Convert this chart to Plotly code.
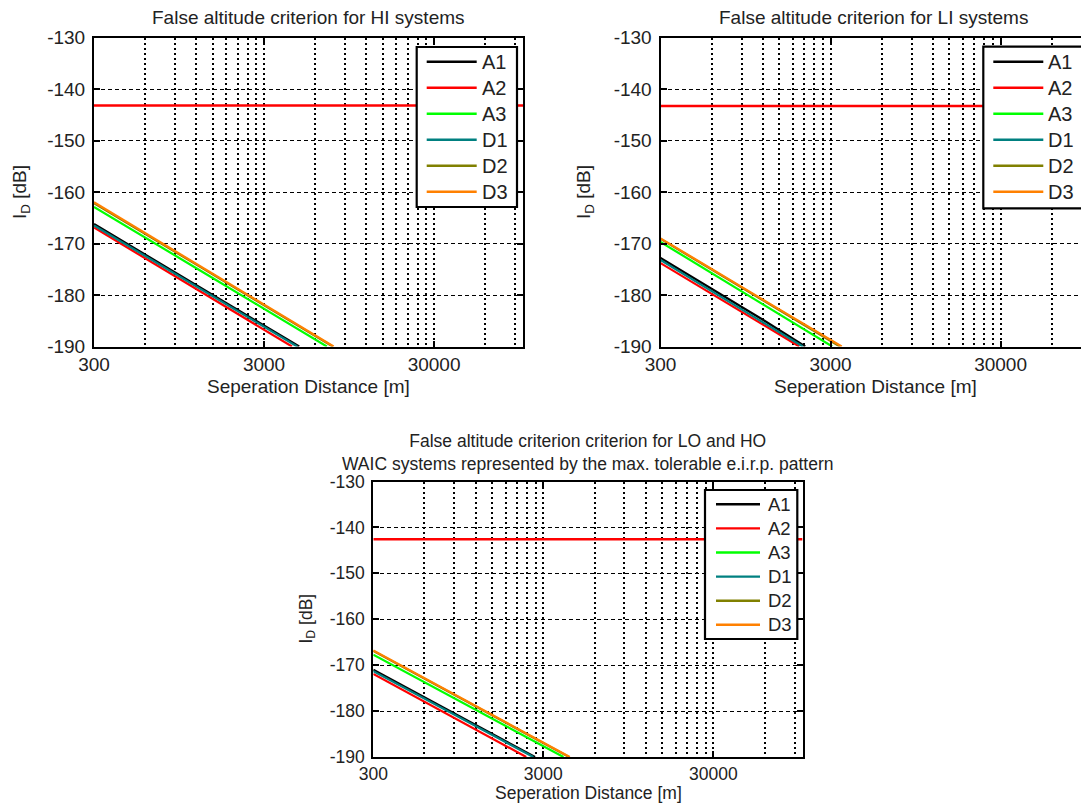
import math
import plotly.graph_objects as go

W, H = 1081, 807
FONT = "Liberation Sans, Arial, Helvetica, sans-serif"
TXT = "#222222"

# ---------------- data ----------------
SERIES = ["A1", "A2", "A3", "D1", "D2", "D3"]
COLORS = ["#000000", "#ff0000", "#00ff00", "#008080", "#808000", "#ff8000"]

DIST = [300, 600, 1200]      # separation distance [m] at which values were read
FLOOR = -190                 # curves leave the plot at the lower edge

# HI systems
HI_A1 = [-166.2, -172.2, -178.1]
HI_A2 = [-166.9, -172.9, -178.8]
HI_A3 = [-162.9, -168.9, -174.8]
HI_D1 = [-166.5, -172.4, -178.4]
HI_D2 = [-162.2, -168.1, -174.1]
HI_D3 = [-162.0, -168.0, -173.9]
HI_END = [4830, 4380, 7020, 4700, 7600, 7700]   # distance where each curve reaches -190 dB

# LI systems
LI_A1 = [-172.8, -178.8, -184.8]
LI_A2 = [-173.8, -179.8, -185.8]
LI_A3 = [-169.7, -175.7, -181.7]
LI_D1 = [-173.2, -179.2, -185.2]
LI_D2 = [-169.1, -175.1, -181.0]
LI_D3 = [-169.0, -175.0, -180.9]
LI_END = [2130, 1965, 3070, 2060, 3400, 3490]

# LO and HO systems
LO_A1 = [-171.0, -177.0, -183.0]
LO_A2 = [-171.9, -177.9, -183.9]
LO_A3 = [-167.7, -173.7, -179.7]
LO_D1 = [-171.3, -177.3, -183.3]
LO_D2 = [-166.9, -172.9, -178.9]
LO_D3 = [-166.8, -172.8, -178.8]
LO_END = [2680, 2380, 3940, 2620, 4250, 4290]

CRIT = [-143.2, -143.3, -142.6]          # false altitude criterion level
CRIT_X = [300, 100000]

TITLES = [
    "False altitude criterion for HI systems",
    "False altitude criterion for LI systems",
    "False altitude criterion criterion for LO and HO<br>WAIC systems represented by the max. tolerable e.i.r.p. pattern",
]
X_TITLE = "Seperation Distance [m]"
Y_TITLE = "I<sub>D</sub> [dB]"

X_TICKS = [300, 3000, 30000]
X_TICK_TEXT = ["300", "3000", "30000"]
X_MINOR = [600, 900, 1200, 1500, 1800, 2100, 2400, 2700,
           6000, 9000, 12000, 15000, 18000, 21000, 24000, 27000,
           60000, 90000]
Y_TICKS = [-190, -180, -170, -160, -150, -140, -130]
Y_TICK_TEXT = ["-190", "-180", "-170", "-160", "-150", "-140", "-130"]
X_MIN, X_MAX = 300, 100000
Y_MIN, Y_MAX = -190, -130

PANEL_DATA = [
    ([HI_A1, HI_A2, HI_A3, HI_D1, HI_D2, HI_D3], HI_END),
    ([LI_A1, LI_A2, LI_A3, LI_D1, LI_D2, LI_D3], LI_END),
    ([LO_A1, LO_A2, LO_A3, LO_D1, LO_D2, LO_D3], LO_END),
]

# ---------------- layout geometry (pixels) ----------------
# axes boxes: left, right, top, bottom ; right edge of LI panel lies beyond the page
BOX = [
    dict(l=94, r=523, t=37.5, b=346.5, fs=19, tfs=19, lfs=20),
    dict(l=660.5, r=1089.5, t=37.5, b=346.5, fs=19, tfs=19, lfs=20),
    dict(l=373.3, r=803.3, t=481.5, b=757, fs=17.5, tfs=17.5, lfs=18.5),
]
LEG = [
    dict(L=416.7, T=47, R=517, B=207, y0=61.7, dy=26, l0=10, l1=60, tx=63),
    dict(L=983.3, T=46.7, R=1083.3, B=208.3, y0=61.7, dy=26, l0=10, l1=60, tx=63),
    dict(L=705, T=490, R=797.3, B=639, y0=504.3, dy=24.1, l0=11, l1=55, tx=61),
]
TITLE_POS = [(308.5, 17), (873, 17), (588, 452)]
XT_POS = [(308.5, 386), (875, 386), (588, 793)]
YT_POS = [(21, 192), (585, 192), (306.5, 619)]


def px(x):
    return x / W


def py(y):
    return 1 - y / H


fig = go.Figure()
layout = dict(
    template="none",
    width=W, height=H,
    margin=dict(l=0, r=0, t=0, b=0, pad=0, autoexpand=False),
    paper_bgcolor="white", plot_bgcolor="white",
    showlegend=False,
    font=dict(family=FONT, color=TXT),
    shapes=[], annotations=[],
)

lx = math.log10(X_MIN)
dec_px = (BOX[0]["r"] - BOX[0]["l"]) / (math.log10(X_MAX) - lx)

for i, (series_vals, ends) in enumerate(PANEL_DATA):
    b = BOX[i]
    sfx = "" if i == 0 else str(i + 1)
    xa, ya = "x" + sfx, "y" + sfx
    right_px = min(b["r"], W)
    x_hi = lx + (right_px - b["l"]) / dec_px

    # criterion line
    fig.add_trace(go.Scatter(
        x=CRIT_X, y=[CRIT[i], CRIT[i]], mode="lines",
        line=dict(color="#ff0000", width=2.5), xaxis=xa, yaxis=ya,
        hoverinfo="skip", showlegend=False))
    for name, col, vals, end in zip(SERIES, COLORS, series_vals, ends):
        fig.add_trace(go.Scatter(
            x=DIST + [end], y=vals + [FLOOR], mode="lines", name=name,
            line=dict(color=col, width=2.2), xaxis=xa, yaxis=ya, showlegend=False))

    clipped = b["r"] > W
    layout["xaxis" + sfx] = dict(
        type="log", range=[lx, x_hi], domain=[px(b["l"]), px(right_px)],
        anchor=ya, tickmode="array", tickvals=X_TICKS, ticktext=X_TICK_TEXT,
        ticks="inside", ticklen=6, tickwidth=1.5, tickcolor="black",
        showline=True, linewidth=2, linecolor="black", mirror="ticks",
        showgrid=True, gridcolor="black", gridwidth=2, griddash="2px,3px",
        minor=dict(tickmode="array", tickvals=X_MINOR, showgrid=True,
                   gridcolor="black", gridwidth=2, griddash="2px,3px", ticks=""),
        zeroline=False, tickfont=dict(size=b["tfs"], color=TXT, family=FONT),
        ticklabelstandoff=0, automargin=False, fixedrange=True,
    )
    layout["yaxis" + sfx] = dict(
        range=[Y_MIN, Y_MAX], domain=[py(b["b"]), py(b["t"])], anchor=xa,
        tickmode="array", tickvals=Y_TICKS, ticktext=Y_TICK_TEXT,
        ticks="inside", ticklen=6, tickwidth=1.5, tickcolor="black",
        showline=True, linewidth=2, linecolor="black",
        mirror=False if clipped else "ticks",
        showgrid=True, gridcolor="black", gridwidth=1.3, griddash="4px,3px",
        zeroline=False, tickfont=dict(size=b["tfs"], color=TXT, family=FONT),
        ticklabelstandoff=3, automargin=False, fixedrange=True,
    )

    # legend box (drawn on top of the plot)
    g = LEG[i]
    layout["shapes"].append(dict(
        type="rect", xref="paper", yref="paper", layer="above",
        x0=px(g["L"]), x1=px(g["R"]), y0=py(g["B"]), y1=py(g["T"]),
        fillcolor="white", line=dict(color="black", width=2.2)))
    for k, (name, col) in enumerate(zip(SERIES, COLORS)):
        yy = g["y0"] + k * g["dy"]
        layout["shapes"].append(dict(
            type="line", xref="paper", yref="paper", layer="above",
            x0=px(g["L"] + g["l0"]), x1=px(g["L"] + g["l1"]),
            y0=py(yy), y1=py(yy), line=dict(color=col, width=2.4)))
        layout["annotations"].append(dict(
            text=name, xref="paper", yref="paper", showarrow=False,
            x=px(g["L"] + g["tx"]), y=py(yy), xanchor="left", yanchor="middle",
            font=dict(size=b["lfs"], color=TXT, family=FONT)))

    # titles
    tx, ty = TITLE_POS[i]
    layout["annotations"].append(dict(
        text=TITLES[i], xref="paper", yref="paper", showarrow=False,
        x=px(tx), y=py(ty), xanchor="center", yanchor="middle",
        font=dict(size=b["fs"], color=TXT, family=FONT)))
    tx, ty = XT_POS[i]
    layout["annotations"].append(dict(
        text=X_TITLE, xref="paper", yref="paper", showarrow=False,
        x=px(tx), y=py(ty), xanchor="center", yanchor="middle",
        font=dict(size=b["fs"], color=TXT, family=FONT)))
    tx, ty = YT_POS[i]
    layout["annotations"].append(dict(
        text=Y_TITLE, xref="paper", yref="paper", showarrow=False, textangle=-90,
        x=px(tx), y=py(ty), xanchor="center", yanchor="middle",
        font=dict(size=b["fs"], color=TXT, family=FONT)))

fig.update_layout(**layout)
fig.write_html("out.html")
